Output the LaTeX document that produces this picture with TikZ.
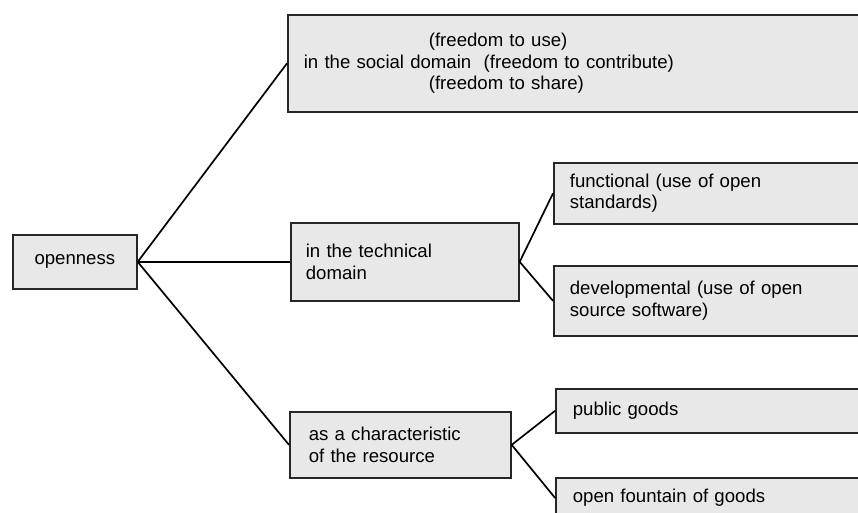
\documentclass[tikz,border=0pt]{standalone}
\usepackage{fontspec}
\setmainfont{Liberation Sans}
\usetikzlibrary{positioning}
\begin{document}
\begin{tikzpicture}[x=1pt, y=-1pt, font=\fontsize{18.6}{21.5}\selectfont,
    box/.style={draw=black!85, line width=1.7pt, fill=black!9, anchor=north west, inner xsep=16pt, inner ysep=0pt, align=left},
    link/.style={line width=1.7pt}]
    \path[use as bounding box] (0, 0) rectangle (858, 513);

    \node[box, align=center, inner xsep=0pt, minimum width=124pt, minimum height=54pt] (openness) at (12, 234) {openness};

    \node[box, text width=568pt, minimum height=97pt] (social) at (287, 14)
      {\hspace*{125pt}(freedom to use)\\in the social domain\ \ (freedom to contribute)\\\hspace*{125pt}(freedom to share)\\[-6pt]};

    \node[box, inner xsep=15pt, text width=198pt, minimum height=78pt] (technical) at (290, 222) {in the technical\\domain};
    \node[box, text width=300pt, minimum height=61pt] (functional) at (553, 162) {functional (use of open\\standards)};
    \node[box, text width=300pt, minimum height=70pt] (developmental) at (553, 265) {developmental (use of open\\source software)};

    \node[box, inner xsep=19pt, text width=183pt, minimum height=66pt] (resource) at (289, 411) {as a characteristic\\of the resource};
    \node[box, inner xsep=17pt, text width=300pt, minimum height=44pt] (public) at (555, 388) {public goods};
    \node[box, inner xsep=17pt, text width=300pt, minimum height=40pt] (fountain) at (555, 477) {open fountain of goods};

    \path[draw, link] (openness.east) -- (social.west);
    \path[draw, link] (openness.east) -- (technical.west);
    \path[draw, link] (openness.east) -- (resource.west);
    \path[draw, link] (technical.east) -- (functional.west);
    \path[draw, link] (technical.east) -- (developmental.west);
    \path[draw, link] (resource.east) -- (public.west);
    \path[draw, link] (resource.east) -- (fountain.west);
\end{tikzpicture}
\end{document}
